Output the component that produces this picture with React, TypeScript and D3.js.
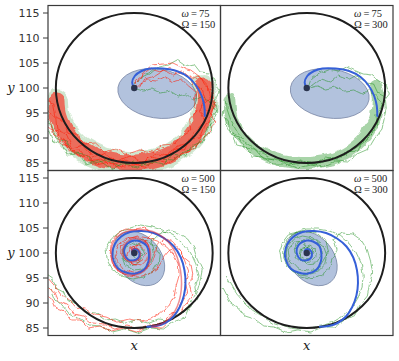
import React from 'react';
import * as d3 from 'd3';

type P = [number, number];

// ---------- data ----------
const yTicks = [85, 90, 95, 100, 105, 110, 115];
const axisDomain: [number, number] = [83.5, 116.5];
const panelOmegas = [75, 75, 500, 500];
const panelBigOmegas = [150, 300, 150, 300];

const circleCenter: P = [100, 100];
const circleRadius = 15;

// covariance ellipses: [cx, cy, rx, ry, angleDeg]
const ellipseSlow = [104.4, 98.9, 7.6, 4.9, 9];
const ellipseFast = [100.9, 98.9, 5.8, 4.4, 50];

const spiralSlow: P[] = [[100,100],[99.6,101.1],[100.1,102.4],[101.4,103.4],[103.0,103.9],[105.5,103.9],[108.1,103.4],[110.3,102.2],[111.9,100.4],[112.9,98.4],[113.4,96.4],[113.5,94.4]];

const spiralFast: P[] = [[100,100],[99.6,100.2],[99.8,100.7],[100.6,100.6],[101.0,99.9],[100.7,98.9],[99.8,98.5],[98.8,98.7],[98.2,99.6],[98.1,100.9],[98.7,101.9],[100.0,102.5],[101.2,102.3],[102.4,101.4],[102.8,99.9],[102.7,98.3],[101.9,96.7],[100.3,95.9],[98.4,96.1],[96.9,96.9],[96.1,98.3],[95.8,99.9],[96.3,101.8],[97.5,103.3],[99.2,104.2],[101.4,104.4],[103.7,104.0],[105.8,102.9],[107.6,101.3],[108.9,99.1],[109.6,96.6],[109.8,94.0],[109.5,91.5],[108.7,89.2],[107.5,87.3],[105.9,86.0],[104.2,85.4],[102.5,85.25]];

const spiralFastRed: P[] = [[100,100],[99.5,100.4],[99.9,100.9],[100.8,100.7],[101.2,99.8],[100.8,98.7],[99.7,98.2],[98.6,98.5],[97.9,99.6],[97.9,101.1],[98.6,102.2],[100.0,102.9],[101.5,102.6],[102.7,101.5],[103.1,99.8],[102.9,98.0],[101.9,96.4],[100.2,95.6],[98.2,95.8],[96.6,96.8],[95.8,98.4],[95.6,100.2],[96.1,102.4],[97.6,103.9],[99.8,104.6],[102.3,104.6],[104.6,103.8],[106.5,102.2],[107.8,100.2],[108.6,97.8],[109.0,95.2],[109.0,92.7],[108.6,90.4],[107.8,88.4],[106.6,86.8],[105.0,85.7],[103.2,85.3]];

// dense band of trajectories (centre line)
const bandSlow: P[] = [[85.2,97.4],[85.5,94.6],[86.5,92.0],[88.1,89.6],[90.2,87.7],[92.8,86.3],[95.6,85.4],[98.6,85.0],[101.6,85.1],[104.6,85.7],[107.3,86.9],[109.6,88.6],[111.4,90.6],[112.7,93.0],[113.4,95.5],[113.6,98.0],[113.2,100.2]];

// trajectories (ω=75, Ω=150)
const tlRed: P[][] = [
  [[100.5,100.3],[100.2,101.5],[101.5,102.6],[103.2,103.8],[105.0,103.2],[106.8,104.1],[108.6,103.0],[110.3,102.4],[111.4,100.6],[113.0,99.8],[113.6,97.6],[112.4,95.5],[113.5,93.4],[111.6,91.2],[110.4,89.0],[108.2,88.4],[106.5,86.4],[104.0,86.9],[101.8,85.2],[99.0,86.4],[96.6,85.3],[94.2,87.0],[92.0,86.2],[90.0,88.6],[88.2,88.0],[87.0,90.8],[85.2,91.6],[85.0,94.0],[83.6,95.2],[83.0,97.0]],
  [[101.0,100.0],[102.0,101.8],[104.0,102.4],[105.8,103.6],[107.5,102.6],[109.2,103.4],[111.0,101.8],[112.2,102.4],[114.0,100.4],[114.6,98.2],[113.2,96.6],[114.8,94.6],[113.4,92.2],[112.6,90.0],[110.6,89.8],[109.6,87.6],[107.2,87.8],[105.6,85.6],[103.2,86.2],[100.6,84.4],[98.2,85.6],[95.8,84.6],[93.6,85.8],[91.4,85.4],[89.6,87.6],[87.6,87.4],[86.4,89.8],[84.6,90.6],[84.0,93.2],[83.0,94.0]],
  [[100.3,100.8],[101.6,103.0],[103.4,104.6],[105.4,104.8],[107.4,105.0],[109.4,104.0],[110.8,103.6],[112.6,102.2],[113.4,100.6],[115.0,99.4],[115.6,97.0],[114.6,95.0],[115.4,93.0],[114.2,91.0],[112.2,88.8],[111.0,87.4],[108.6,86.6],[106.6,85.0],[104.2,85.6],[102.0,84.2],[99.6,84.6],[97.4,84.0],[95.0,85.2],[92.8,84.6],[91.0,86.6],[89.0,86.4],[87.6,88.4],[85.8,88.8],[85.4,91.2],[84.0,91.8],[83.0,92.6]],
  [[100.6,100.2],[101.4,101.0],[102.6,101.6],[104.2,101.4],[105.8,102.2],[107.4,101.2],[109.0,101.8],[110.4,100.4],[111.8,99.2],[111.4,97.2],[112.0,95.4],[110.6,93.8],[110.8,91.6],[109.0,90.4],[107.6,88.8],[105.4,88.6],[103.6,87.2],[101.0,87.6],[98.8,86.8],[96.4,87.8],[94.4,87.2],[92.6,89.0],[90.4,88.8],[89.0,90.8],[87.2,91.2],[86.6,93.4],[85.0,94.2],[84.6,96.6],[83.2,97.6],[83.0,99.0]],
];
const tlGreen: P[][] = [
  [[100.4,99.8],[101.8,99.4],[103.4,99.8],[105.0,99.0],[106.8,99.4],[108.4,98.4],[110.0,98.8],[111.2,97.6],[112.8,98.4],[114.6,97.0],[115.6,95.2],[114.4,93.6],[114.8,91.4],[112.8,89.8],[111.6,88.0],[109.2,87.0],[107.4,85.6],[104.8,85.8],[102.4,84.6],[99.8,85.2],[97.2,84.4],[94.8,85.6],[92.4,85.0],[90.6,86.8],[88.4,87.0],[87.0,89.4],[85.0,90.0],[84.2,92.6],[83.0,93.4]],
  [[100.2,100.6],[101.2,102.2],[103.0,102.8],[104.6,104.2],[106.4,104.6],[108.2,105.6],[109.8,104.4],[111.4,104.8],[112.6,103.2],[114.4,103.0],[115.4,101.2],[116.2,99.2],[115.4,97.4],[116.0,95.2],[115.0,93.2],[113.8,91.6],[113.2,89.4],[111.0,88.4],[109.8,86.4],[107.2,86.8],[105.6,84.8],[103.0,85.4],[100.6,84.0],[98.0,85.0],[95.6,83.8],[93.2,85.6],[90.8,84.8],[89.4,86.8],[87.2,86.6],[86.0,88.8],[84.4,89.4],[83.6,91.6],[82.8,92.4]],
];

// (ω=75, Ω=300)
const trGreen: P[][] = [
  [[100.3,100.2],[100.8,101.8],[102.4,103.0],[104.0,103.6],[105.8,103.2],[107.6,104.2],[109.4,103.4],[110.8,102.8],[112.4,102.6],[113.8,101.4],[115.2,100.6],[115.8,98.8],[114.6,97.2],[114.2,95.0],[113.4,93.0],[112.6,91.0],[111.0,89.2],[109.4,88.0],[107.4,86.6],[105.0,86.0],[102.6,85.0],[100.0,85.0],[97.4,84.8],[95.0,85.4],[92.6,86.2],[90.4,87.6],[88.4,89.0],[86.8,91.0],[85.6,93.2],[84.8,95.6],[84.6,97.6]],
  [[100.6,100.0],[102.0,100.4],[103.6,99.8],[105.4,100.2],[107.2,99.4],[109.0,99.6],[110.6,98.8],[111.8,99.6],[113.2,98.4],[114.4,96.4],[113.2,94.6],[113.6,92.6],[112.2,90.4],[110.6,89.4],[109.8,87.4],[107.6,87.2],[105.8,85.6],[103.6,86.0],[101.4,84.6],[98.8,85.6],[96.4,84.6],[94.0,86.0],[91.8,85.8],[90.0,87.8],[88.0,88.0],[87.0,90.2],[85.4,90.8],[85.0,93.2],[84.0,94.4],[84.2,96.4]],
  [[101.0,100.4],[102.8,101.8],[104.6,101.2],[106.2,102.6],[108.2,101.8],[109.6,102.6],[111.4,101.0],[112.8,100.8],[113.6,99.0],[115.0,98.2],[115.2,96.0],[114.8,93.8],[114.4,91.8],[112.8,89.6],[111.8,87.8],[109.6,86.8],[107.8,85.2],[105.4,85.4],[103.0,84.2],[100.6,84.6],[98.2,84.0],[95.8,84.8],[93.6,84.8],[91.6,86.2],[89.6,86.4],[88.2,88.2],[86.6,88.6],[86.0,90.8],[84.8,91.8],[84.4,94.0]],
];

// (ω=500, Ω=150)
const blRed: P[][] = [
  [[100,100],[99.4,100.8],[100.4,101.6],[101.6,101.2],[102.2,100.0],[101.6,98.6],[100.2,97.8],[98.6,98.4],[97.4,99.8],[97.6,101.6],[98.8,102.8],[100.6,103.4],[102.6,103.0],[104.4,102.4],[106.2,101.2],[107.6,99.6],[108.4,97.8],[108.6,95.6],[108.0,93.4],[107.6,91.2],[106.6,89.4],[105.0,88.0],[103.2,86.8],[101.2,86.4],[99.0,86.8],[96.8,86.2],[94.6,87.2],[92.4,87.6],[90.6,88.8],[88.8,89.2],[87.4,90.8],[86.0,91.6],[84.8,93.4],[83.8,94.6],[83.0,95.6]],
  [[100.2,99.8],[101.0,100.6],[100.2,101.4],[99.0,100.8],[98.6,99.4],[99.6,98.0],[101.4,97.6],[102.6,98.8],[103.0,100.6],[102.2,102.2],[100.6,103.2],[98.8,103.0],[97.2,102.0],[96.4,100.2],[96.8,98.2],[98.0,96.6],[99.8,96.0],[101.8,96.6],[103.4,97.8],[104.0,99.8],[104.4,101.8],[105.8,103.0],[107.4,102.2],[108.8,100.6],[109.6,98.6],[110.4,96.4],[109.8,94.2],[110.2,92.0],[109.0,90.2],[108.4,88.4],[106.6,87.4],[105.2,85.8],[103.0,85.6],[100.8,84.8],[98.6,85.4],[96.2,84.8],[94.2,85.8],[92.0,86.0],[90.2,87.4],[88.6,87.8],[87.2,89.6],[85.6,90.2],[84.8,92.2],[83.4,93.0]],
  [[99.8,100.2],[100.8,101.6],[102.2,102.4],[103.4,104.0],[102.0,105.0],[100.0,104.6],[98.2,104.8],[96.6,103.6],[95.6,102.0],[95.4,100.0],[95.8,98.0],[97.0,96.4],[98.8,95.4],[100.8,95.2],[102.8,95.8],[104.4,97.0],[105.4,98.8],[106.8,100.6],[108.4,101.0],[109.4,99.2],[110.8,98.0],[111.2,95.8],[110.6,93.6],[111.0,91.4],[109.6,89.6],[108.8,87.6],[107.0,86.8],[105.2,85.0],[102.8,85.2],[100.4,84.2],[98.0,85.0],[95.6,84.4],[93.4,85.4],[91.2,85.0],[89.6,86.6],[87.8,86.6],[86.6,88.4],[85.0,89.0],[84.2,91.0],[83.0,91.8]],
];
const blGreen: P[][] = [
  [[100.4,100.4],[101.6,99.6],[101.0,98.2],[99.4,97.6],[98.0,98.6],[97.8,100.4],[98.6,101.8],[100.2,102.6],[102.2,102.4],[103.8,101.6],[104.8,100.0],[104.6,98.0],[103.6,96.4],[101.8,95.2],[99.6,94.8],[97.6,95.4],[95.8,96.8],[94.8,98.8],[94.6,101.0],[95.6,102.8],[97.2,104.2],[99.2,105.0],[101.2,105.6],[103.4,105.2],[105.4,104.6],[107.6,103.4],[109.4,101.8],[110.8,100.0],[111.8,97.8],[112.4,95.4],[111.6,93.2],[112.0,90.8],[110.4,89.0],[109.6,87.0],[107.4,86.2],[105.6,84.8],[103.0,85.0],[100.6,84.0],[98.2,84.8],[95.8,84.2],[93.6,85.4],[91.4,85.6],[89.4,87.0],[87.6,87.8],[86.2,89.6],[84.8,90.6],[84.0,92.6],[83.0,93.6]],
  [[99.8,99.6],[100.6,98.8],[101.8,99.8],[101.4,101.4],[100.0,102.0],[98.4,101.2],[97.6,99.4],[98.2,97.6],[99.8,96.6],[101.8,96.8],[103.2,98.2],[103.8,100.2],[103.4,102.4],[104.8,103.8],[106.6,104.6],[108.4,104.0],[110.2,102.8],[111.4,101.0],[112.0,98.8],[113.0,96.6],[112.6,94.4],[112.0,92.2],[110.8,90.4],[110.0,88.6],[108.4,87.6],[106.6,86.6],[104.6,86.8],[102.6,86.0],[100.4,86.6],[98.4,86.0],[96.4,86.8],[94.4,86.6],[92.6,88.0],[90.6,88.2],[89.2,89.8],[87.4,90.4],[86.4,92.2],[85.0,93.0],[84.4,95.0],[83.0,96.0]],
];

// (ω=500, Ω=300)
const brGreen: P[][] = [
  [[100.2,100.2],[99.6,101.0],[100.6,101.6],[101.6,100.8],[101.8,99.4],[100.8,98.4],[99.2,98.2],[98.0,99.2],[97.6,100.8],[98.4,102.2],[100.0,102.8],[101.8,102.6],[103.2,101.4],[103.8,99.6],[103.4,97.6],[102.0,96.2],[100.0,95.6],[98.0,96.0],[96.4,97.2],[95.6,99.0],[95.6,101.2],[96.4,103.0],[98.0,104.2],[100.0,104.8],[102.2,104.8],[104.4,104.4],[106.4,103.4],[108.0,102.0],[109.4,100.2],[110.4,98.0],[110.8,95.6],[110.6,93.2],[109.8,91.0],[108.6,89.0],[107.0,87.4],[105.0,86.2],[102.8,85.4],[100.4,85.0],[98.0,84.8],[95.6,85.2],[93.4,86.0],[91.4,87.4],[89.6,88.6],[88.0,90.2],[86.6,91.8],[85.6,93.6],[84.6,95.4]],
  [[100.4,99.8],[101.2,100.6],[100.4,101.4],[99.0,100.8],[98.8,99.2],[100.0,97.8],[101.8,98.0],[102.8,99.6],[102.6,101.6],[101.2,103.0],[99.2,103.4],[97.4,102.8],[96.2,101.2],[96.0,99.0],[96.8,97.0],[98.4,95.6],[100.4,95.0],[102.4,95.4],[104.2,96.6],[104.8,98.6],[105.8,100.6],[105.2,102.8],[106.8,104.0],[108.8,103.8],[110.4,102.6],[111.6,100.6],[112.2,98.4],[112.6,96.0],[112.0,93.8],[111.6,91.4],[110.2,89.6],[109.2,87.6],[107.2,86.6],[105.4,85.2],[103.0,85.2],[100.8,84.2],[98.4,84.6],[96.0,84.2],[93.8,85.2],[91.8,85.4],[90.0,86.8],[88.2,87.4],[86.8,89.2],[85.4,90.0],[84.6,91.8],[84.0,93.0]],
  [[99.8,100.2],[98.8,100.8],[98.6,99.6],[99.6,98.8],[100.8,99.0],[101.2,100.2],[100.4,101.0],[99.2,102.4],[97.6,102.2],[96.4,100.6],[96.8,98.4],[98.2,96.8],[100.2,96.4],[102.2,96.8],[103.2,98.6],[104.2,100.4],[103.6,102.4],[102.4,103.8],[100.4,104.4],[98.4,104.2],[96.6,103.8],[95.4,102.2],[94.8,100.4],[95.2,98.2]],
];

// ---------- layout ----------
const W = 399, H = 361;
const colsX = [48, 220.5];
const rowsY = [5.5, 170.5];
const PW = 172.5, PH = 165;

const RED = '#ff1a0a';
const GREEN = '#1f8f1f';

interface PanelDef {
  col: number; row: number;
  ellipse: number[];
  spiral: P[];
  redSpiral?: P[];
  reds: P[][];
  greens: P[][];
  band?: { color: string; width: number; opacity: number; halo?: boolean };
}

const panels: PanelDef[] = [
  { col: 0, row: 0, ellipse: ellipseSlow, spiral: spiralSlow, reds: tlRed, greens: tlGreen, band: { color: RED, width: 17, opacity: 0.6, halo: true } },
  { col: 1, row: 0, ellipse: ellipseSlow, spiral: spiralSlow, reds: [], greens: trGreen, band: { color: GREEN, width: 12, opacity: 0.38 } },
  { col: 0, row: 1, ellipse: ellipseFast, spiral: spiralFast, redSpiral: spiralFastRed, reds: blRed, greens: blGreen },
  { col: 1, row: 1, ellipse: ellipseFast, spiral: spiralFast, reds: [], greens: brGreen },
];

function Panel({ p, i }: { p: PanelDef; i: number }) {
  const x0 = colsX[p.col], y0 = rowsY[p.row];
  const xs = d3.scaleLinear().domain(axisDomain).range([x0, x0 + PW]);
  const ys = d3.scaleLinear().domain(axisDomain).range([y0 + PH, y0]);
  const kx = PW / (axisDomain[1] - axisDomain[0]);
  const ky = PH / (axisDomain[1] - axisDomain[0]);
  const rough = d3.line<P>().x(d => xs(d[0])).y(d => ys(d[1])).curve(d3.curveLinear);
  const smooth = d3.line<P>().x(d => xs(d[0])).y(d => ys(d[1])).curve(d3.curveCatmullRom.alpha(0.5));
  const [ecx, ecy, erx, ery, ea] = p.ellipse;
  const clipId = `clip${i}`;
  return (
    <g>
      <g clipPath={`url(#${clipId})`}>
        <ellipse
          cx={xs(ecx)} cy={ys(ecy)} rx={erx * kx} ry={ery * ky}
          transform={`rotate(${ea} ${xs(ecx)} ${ys(ecy)})`}
          fill="#b2c2dd" stroke="#7c8aa8" strokeWidth={0.8} />
        {p.band && (
          <g filter="url(#blob)">
            {p.band.halo && (
              <path d={smooth(bandSlow) || ''} fill="none" stroke={GREEN} strokeOpacity={0.22}
                strokeWidth={p.band.width + 7} strokeLinecap="round" />
            )}
            <path d={smooth(bandSlow) || ''} fill="none" stroke={p.band.color} strokeOpacity={p.band.opacity}
              strokeWidth={p.band.width} strokeLinecap="round" />
          </g>
        )}
        <g filter="url(#jit)">
          {p.greens.map((t, k) => (
            <path key={'g' + k} d={rough(t) || ''} fill="none" stroke={GREEN} strokeOpacity={0.5} strokeWidth={1} />
          ))}
          {p.reds.map((t, k) => (
            <path key={'r' + k} d={rough(t) || ''} fill="none" stroke={RED} strokeOpacity={0.55} strokeWidth={1} />
          ))}
        </g>
        <ellipse cx={xs(circleCenter[0])} cy={ys(circleCenter[1])} rx={circleRadius * kx} ry={circleRadius * ky}
          fill="none" stroke="#1e1e1e" strokeWidth={2} />
        <path d={smooth(p.spiral) || ''} fill="none" stroke="#3560d8" strokeWidth={2} strokeLinecap="round" />
        {p.redSpiral && (
          <path d={smooth(p.redSpiral) || ''} fill="none" stroke="#e0202a" strokeOpacity={0.5} strokeWidth={1.5} />
        )}
        <circle cx={xs(circleCenter[0])} cy={ys(circleCenter[1])} r={3.2} fill="#2a344e" />
      </g>
      <rect x={x0} y={y0} width={PW} height={PH} fill="none" stroke="#3a3a3a" strokeWidth={1.2} />
      <text x={x0 + PW - 39} y={y0 + 11} fontFamily="'Liberation Serif', serif" fontSize={10.5} fill="#222">
        <tspan fontStyle="italic">ω</tspan>{'\u2009=\u2009' + panelOmegas[i]}
      </text>
      <text x={x0 + PW - 39} y={y0 + 22.5} fontFamily="'Liberation Serif', serif" fontSize={10.5} fill="#222">
        {'Ω\u2009=\u2009' + panelBigOmegas[i]}
      </text>
      {p.col === 0 && yTicks.map(t => (
        <g key={t}>
          <line x1={x0 - 5} x2={x0} y1={ys(t)} y2={ys(t)} stroke="#3a3a3a" strokeWidth={1} />
          <text x={x0 - 8.5} y={ys(t)} dy="0.36em" textAnchor="end" fontFamily="'DejaVu Sans', sans-serif"
            fontSize={11} fill="#333">{t}</text>
        </g>
      ))}
      {p.col === 0 && (
        <text x={11} y={ys(100)} dy="0.3em" textAnchor="middle" fontFamily="'DejaVu Serif', serif"
          fontStyle="italic" fontSize={13} fill="#222">y</text>
      )}
      {p.row === 1 && (
        <text x={xs(100)} y={y0 + PH + 14} textAnchor="middle" fontFamily="'DejaVu Serif', serif"
          fontStyle="italic" fontSize={13} fill="#222">x</text>
      )}
    </g>
  );
}

export default function App() {
  return (
    <svg width={W} height={H} style={{ display: 'block', position: 'absolute', left: 0, top: 0, background: '#fff' }}>
      <defs>
        {panels.map((p, i) => (
          <clipPath id={`clip${i}`} key={i}>
            <rect x={colsX[p.col]} y={rowsY[p.row]} width={PW} height={PH} />
          </clipPath>
        ))}
        <filter id="jit" filterUnits="userSpaceOnUse" x={0} y={0} width={W} height={H}>
          <feTurbulence type="fractalNoise" baseFrequency="0.16" numOctaves={2} seed={7} result="n" />
          <feDisplacementMap in="SourceGraphic" in2="n" scale={4} xChannelSelector="R" yChannelSelector="G" />
        </filter>
        <filter id="blob" filterUnits="userSpaceOnUse" x={0} y={0} width={W} height={H}>
          <feTurbulence type="fractalNoise" baseFrequency="0.08" numOctaves={2} seed={3} result="n" />
          <feDisplacementMap in="SourceGraphic" in2="n" scale={7} xChannelSelector="R" yChannelSelector="G" />
        </filter>
      </defs>
      <rect x={0} y={0} width={W} height={H} fill="#fff" />
      {panels.map((p, i) => <Panel key={i} p={p} i={i} />)}
    </svg>
  );
}
